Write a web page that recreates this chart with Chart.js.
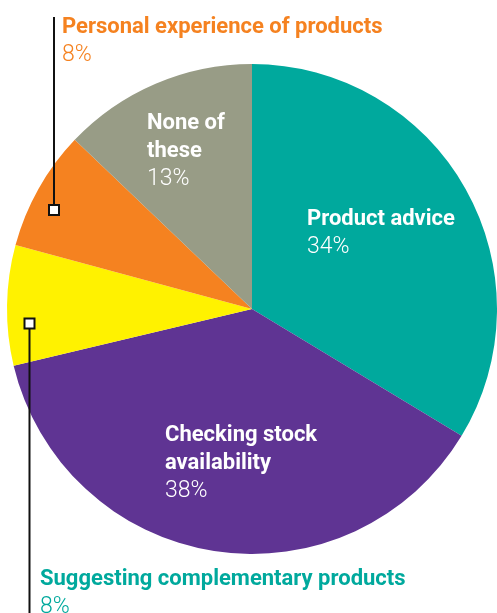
<!DOCTYPE html>
<html>
<head>
<meta charset="utf-8">
<script src="https://cdn.jsdelivr.net/npm/chart.js@4"></script>
<style>
  html, body { margin: 0; padding: 0; background: #fff; }
  #wrap { width: 497px; height: 613px; position: relative; }
</style>
</head>
<body>
<div id="wrap"><canvas id="pie"></canvas></div>
<script>
const categories = [
  "Product advice",
  "Checking stock availability",
  "Suggesting complementary products",
  "Personal experience of products",
  "None of these"
];
const shares = [34, 38, 8, 8, 13];
const sliceColors = ["#00a99d", "#5f3493", "#fff200", "#f58220", "#989c86"];

const BOLD = "700 22px Roboto, 'DejaVu Sans', sans-serif";
const LIGHT = "300 23px Roboto, 'DejaVu Sans', sans-serif";

function textBlock(ctx, x, y, lines, pct, color) {
  ctx.fillStyle = color;
  ctx.textAlign = "left";
  ctx.textBaseline = "alphabetic";
  ctx.font = BOLD;
  lines.forEach((line, i) => ctx.fillText(line, x, y + i * 28));
  ctx.font = LIGHT;
  ctx.fillText(pct + "%", x, y + lines.length * 28);
}

function leader(ctx, x, y0, y1, boxY) {
  ctx.strokeStyle = "#111";
  ctx.lineWidth = 2;
  ctx.beginPath();
  ctx.moveTo(x, y0);
  ctx.lineTo(x, y1);
  ctx.stroke();
  ctx.fillStyle = "#fff";
  ctx.fillRect(x - 5, boxY - 5, 10, 10);
  ctx.strokeRect(x - 5, boxY - 5, 10, 10);
}

const labelPlugin = {
  id: "sliceLabels",
  afterDraw(chart) {
    const ctx = chart.ctx;
    ctx.save();
    textBlock(ctx, 307, 225, ["Product advice"], shares[0], "#fff");
    textBlock(ctx, 165, 441, ["Checking stock", "availability"], shares[1], "#fff");
    textBlock(ctx, 147, 129, ["None of", "these"], shares[4], "#fff");

    leader(ctx, 54, 17, 210, 210);
    textBlock(ctx, 62, 33, ["Personal experience of products"], shares[3], "#f58220");

    leader(ctx, 29.5, 323, 613, 323.5);
    textBlock(ctx, 40, 585, ["Suggesting complementary products"], shares[2], "#00a99d");
    ctx.restore();
  }
};

new Chart(document.getElementById("pie"), {
  type: "pie",
  data: {
    labels: categories,
    datasets: [{
      data: shares,
      backgroundColor: sliceColors,
      borderWidth: 0
    }]
  },
  options: {
    responsive: true,
    maintainAspectRatio: false,
    animation: false,
    layout: { padding: { left: 7, right: 0, top: 64, bottom: 59 } },
    plugins: {
      legend: { display: false },
      tooltip: { enabled: false }
    }
  },
  plugins: [labelPlugin]
});
</script>
</body>
</html>
